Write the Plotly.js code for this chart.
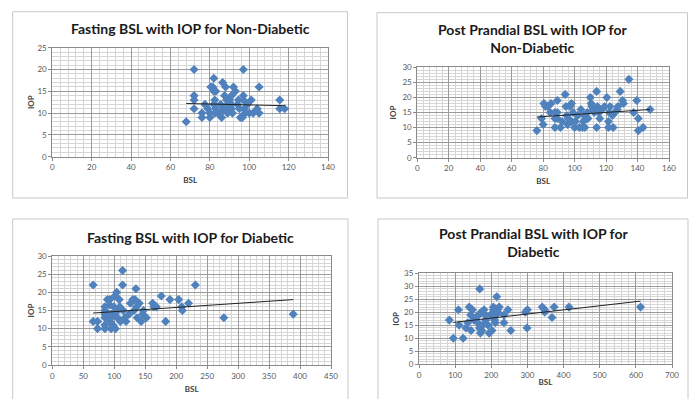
<!DOCTYPE html>
<html>
<head>
<meta charset="utf-8">
<script src="https://cdn.plot.ly/plotly-3.0.1.min.js"></script>
<style>html,body{margin:0;padding:0;background:#fff;}#chart{width:690px;height:399px;}</style>
</head>
<body>
<div id="chart"></div>
<script>
// Panel 1: Fasting BSL vs IOP, Non-Diabetic
const fndBSL = [68,72,72,72,72,76,76,77.5,79,80,80,80.5,81.5,82,82,83,82.5,82,83,82.5,84,85.5,86.5,85.5,86,87,87.5,88,88.5,89,90,91,91,91.5,92,93,94,94.5,95,95.5,96.5,97,97,97,97.5,98,99,100,101,102,104,105,105,115.5,115.5,118,91,89];
const fndIOP = [8,20,14,13,11,10,9,12,11,9,10,16,16,18,15,15,13,12,11,10,10,12,17,10,9,11,14,16,13,12,13,14,11,10,16,15,12,13,11,9,9,20,14,13,11,10,12,10,13,10,11,16,10,13,11,11,12,10];
const fndTrendX = [68,118];
const fndTrendY = [12.2,11.7];

// Panel 2: Post Prandial BSL vs IOP, Non-Diabetic
const ppndBSL = [76,79,80,80.5,81.5,83,84.5,85,87.5,87.5,87.5,89,89,89,91,92,94,94.5,95,95.5,96,97,98,98,99,100,100.5,102,103,104,105,105.5,106,106.5,107.5,108,108.5,110,110.5,111,111.5,112.5,114,114,114.5,115.5,116,117.5,119,120.5,121.5,121.5,122,122.5,124,124.5,125.5,127,127.5,129,130.5,131,134.5,137.5,139.5,140.5,140.5,143.5,148];
const ppndIOP = [9,13,11,18,17,17,15,18,15,13,10,13,15,19,10,12,21,17,14,11,13,17,18,12,15,10,12,14,10,16,10,12,14,10,13,15,13,20,18,17,16,15,22,10,17,15,13,16,17,20,12,10,15,17,14,10,15,16,17,22,19,18,26,15,19,13,9,10,16];
const ppndTrendX = [76,148];
const ppndTrendY = [13.5,16.0];

// Panel 3: Fasting BSL vs IOP, Diabetic
const fdBSL = [66,66,73,73,85,85,85,85,85,85,89,90,93,93,93,95,95,96,98,99.5,101,101,102,104,105,106,108,109,110,113.5,113.5,114.5,117,119,124,126,130,132,133.5,135,136,137,140.5,143.5,146,147,152,162,164,168,176,183,190,204,209,210,220,231,277,389];
const fdIOP = [22,12,12,10,13,15,16,14,11,10,18,14,18,16.5,12,13,10,14,11,16,19,14,10,20,13,15,18,16,12,26,22,15,13,12,14,17,18,15,18,21,16,13,17,12,14,15,13,17,16,16,19,12,18,18,16,15,17,22,13,14];
const fdTrendX = [66,389];
const fdTrendY = [14.3,18.0];

// Panel 4: Post Prandial BSL vs IOP, Diabetic
const ppdBSL = [95,84,109,111,122,130,135,139,143,144,148,152,157,163,165,167,168,170,172,174,176,180,183,185,191,194,198,202,206,206,207,207,209,211,213,215,217,218,222,235,235,246,254,294,300,299,341,348,348,368,374,415,613];
const ppdIOP = [10,17,21,15,10,14,16,22,19,13,21,17,18,16,19,14,29,12,20,13,15,21,19,17,15,12,19,13,21,22,20,18,17,16,19,26,21,20,22,19,16,21,13,20,21,14,22,21,20,18,22,22,22];
const ppdTrendX = [95,613];
const ppdTrendY = [16.1,24.3];

const titles = [
  "Fasting BSL with IOP for Non-Diabetic",
  "Post Prandial BSL with IOP for<br>Non-Diabetic",
  "Fasting BSL with IOP for Diabetic",
  "Post Prandial BSL with IOP for<br>Diabetic"
];
const xRanges = [[0,140],[0,160],[0,450],[0,700]];
const yRanges = [[0,25],[0,30],[0,30],[0,35]];
const xMajor = [20,20,50,100];
const xMinor = [4,4,10,20];

const W = 690, H = 399;
const px = v => v / W;
const py = v => 1 - v / H;

const domains = [
  {x:[52.3,328], y:[47.7,156.7]},
  {x:[417.3,669], y:[67.3,157.7]},
  {x:[52.3,331], y:[256,365]},
  {x:[419,672], y:[273.3,364.3]}
];
const boxes = [
  [12.7,11.7,347.5,198],
  [377,12.7,687.5,198],
  [12.7,219,348,405],
  [378,219,688,405]
];
const titlePos = [[190,29],[532,38],[190,237],[533,242]];
const xStandoff = [6,6,6,0];
const yStandoff = [1,4,1,3];

const blue = '#4F81BD';
const datasets = [
  [fndBSL,fndIOP,fndTrendX,fndTrendY],
  [ppndBSL,ppndIOP,ppndTrendX,ppndTrendY],
  [fdBSL,fdIOP,fdTrendX,fdTrendY],
  [ppdBSL,ppdIOP,ppdTrendX,ppdTrendY]
];

const traces = [];
const layout = {
  width: W, height: H,
  margin: {l:0,r:0,t:0,b:0},
  paper_bgcolor: '#fff', plot_bgcolor: '#fff',
  showlegend: false,
  font: {family: 'Lato, "Liberation Sans", sans-serif', color: '#595959'},
  shapes: [], annotations: []
};

datasets.forEach((d, i) => {
  const n = i === 0 ? '' : String(i + 1);
  const xa = 'x' + n, ya = 'y' + n;
  traces.push({
    x: d[0], y: d[1], xaxis: xa, yaxis: ya, type: 'scatter', mode: 'markers',
    marker: {symbol: 'diamond', size: 7, color: blue}, hoverinfo: 'skip'
  });
  traces.push({
    x: d[2], y: d[3], xaxis: xa, yaxis: ya, type: 'scatter', mode: 'lines',
    line: {color: '#222', width: 1}, hoverinfo: 'skip'
  });
  const dom = domains[i];
  layout['xaxis' + n] = {
    domain: [px(dom.x[0]), px(dom.x[1])], anchor: ya,
    range: xRanges[i], dtick: xMajor[i], tick0: 0,
    showgrid: true, gridcolor: '#9a9a9a', gridwidth: 1,
    minor: {dtick: xMinor[i], showgrid: true, gridcolor: '#d6d6d6', gridwidth: 1},
    showline: true, linecolor: '#8a8a8a', mirror: true,
    ticks: 'outside', ticklen: 3, tickcolor: '#8a8a8a',
    zeroline: false, fixedrange: true,
    tickfont: {size: 8, color: '#595959'},
    title: {text: '<b>BSL</b>', font: {size: 8, color: '#404040'}, standoff: xStandoff[i]}
  };
  layout['yaxis' + n] = {
    domain: [py(dom.y[1]), py(dom.y[0])], anchor: xa,
    range: yRanges[i], dtick: 5, tick0: 0,
    showgrid: true, gridcolor: '#9a9a9a', gridwidth: 1,
    minor: {dtick: 1, showgrid: true, gridcolor: '#d6d6d6', gridwidth: 1},
    showline: true, linecolor: '#8a8a8a', mirror: true,
    ticks: 'outside', ticklen: 3, tickcolor: '#8a8a8a',
    zeroline: false, fixedrange: true,
    tickfont: {size: 8, color: '#595959'},
    title: {text: '<b>IOP</b>', font: {size: 8, color: '#404040'}, standoff: yStandoff[i]}
  };
  const b = boxes[i];
  layout.shapes.push({
    type: 'rect', xref: 'paper', yref: 'paper',
    x0: px(b[0]), x1: px(b[2]), y0: py(b[3]), y1: py(b[1]),
    line: {color: '#c8c8c8', width: 1}, fillcolor: 'rgba(0,0,0,0)', layer: 'below'
  });
  layout.annotations.push({
    text: '<b>' + titles[i] + '</b>', xref: 'paper', yref: 'paper',
    x: px(titlePos[i][0]), y: py(titlePos[i][1]), xanchor: 'center', yanchor: 'middle',
    showarrow: false, font: {size: 14, color: '#1a1a1a'}
  });
});

Plotly.newPlot('chart', traces, layout, {staticPlot: true, displayModeBar: false});
</script>
</body>
</html>
